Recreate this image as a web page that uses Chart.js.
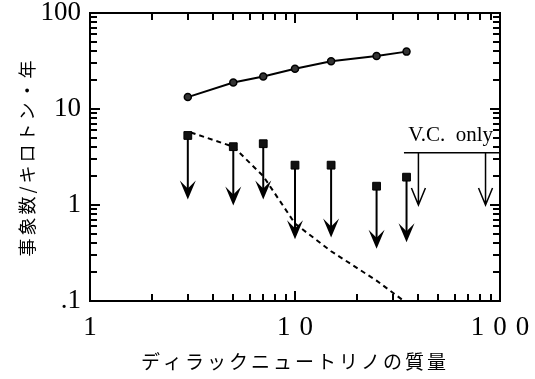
<!DOCTYPE html>
<html lang="ja">
<head>
<meta charset="UTF-8">
<title>ディラックニュートリノの質量</title>
<script src="https://cdn.jsdelivr.net/npm/chart.js/dist/chart.umd.min.js"></script>
<style>
  body { margin: 0; background: #fff; }
  #wrap { width: 535px; height: 379px; }
</style>
</head>
<body>
<div id="wrap"><canvas id="c" width="535" height="379"></canvas></div>
<script>
// values
const masses = [3, 5, 7, 10, 15, 25, 35];
const expected = [13.3, 18.9, 21.8, 26.2, 31.5, 35.7, 39.6];
const upperLimit = [5.3, 4.05, 4.35, 2.6, 2.6, 1.57, 1.95];
const arrowTip = [1.14, 0.99, 1.14, 0.44, 0.46, 0.35, 0.41];

const dashMass = [3.1, 5, 7, 10, 15, 25, 34];
const dashVal = [5.7, 4.05, 2.0, 0.64, 0.33, 0.163, 0.1];

const vcLineMass = [34, 100];
const vcLimit = [3.5, 3.5];
const vcArrowMass = [40, 85];
const vcArrowTip = [1.0, 1.0];

// axes
const xMajor = [1, 10, 100];
const xLabels = ['1', '10', '100'];
const yMajor = [0.1, 1, 10, 100];
const yLabels = ['.1', '1', '10', '100'];

function decadeTicks(major) {
  const out = [];
  for (let i = 0; i < major.length - 1; i++) {
    for (let k = 1; k < 10; k++) out.push(parseFloat((major[i] * k).toPrecision(2)));
  }
  out.push(major[major.length - 1]);
  return out;
}
const xTickVals = decadeTicks(xMajor);
const yTickVals = decadeTicks(yMajor);

const pts = (xs, ys) => xs.map((v, i) => ({ x: v, y: ys[i] }));

// canvas letterSpacing on a scale's labels / title
function spaceOut(scale, labelGap, titleGap) {
  if (scale._spaced) return;
  scale._spaced = true;
  const drawLabels = scale.drawLabels;
  const drawTitle = scale.drawTitle;
  scale.drawLabels = function (area) {
    this.ctx.letterSpacing = labelGap;
    drawLabels.call(this, area);
    this.ctx.letterSpacing = '0px';
  };
  scale.drawTitle = function (area) {
    this.ctx.letterSpacing = titleGap;
    drawTitle.call(this, area);
    this.ctx.letterSpacing = '0px';
  };
}

// arrows, V.C. label, frame and inward ticks
const figureExtras = {
  id: 'figureExtras',
  beforeDatasetsDraw(chart) {
    const { ctx, chartArea, scales: { x, y } } = chart;
    ctx.save();
    ctx.strokeStyle = '#000';
    ctx.fillStyle = '#000';

    masses.forEach((m, i) => {
      const px = x.getPixelForValue(m);
      const y0 = y.getPixelForValue(upperLimit[i]);
      const y1 = y.getPixelForValue(arrowTip[i]);
      ctx.lineWidth = 2;
      ctx.beginPath();
      ctx.moveTo(px, y0);
      ctx.lineTo(px, y1 - 8);
      ctx.stroke();
      ctx.beginPath();
      ctx.moveTo(px, y1);
      ctx.lineTo(px - 8, y1 - 19);
      ctx.lineTo(px, y1 - 11);
      ctx.lineTo(px + 8, y1 - 19);
      ctx.closePath();
      ctx.fill();
    });

    ctx.lineWidth = 1.5;
    vcArrowMass.forEach((m, i) => {
      const px = x.getPixelForValue(m);
      const y0 = y.getPixelForValue(vcLimit[0]);
      const y1 = y.getPixelForValue(vcArrowTip[i]);
      ctx.beginPath();
      ctx.moveTo(px, y0);
      ctx.lineTo(px, y1);
      ctx.moveTo(px - 7, y1 - 17);
      ctx.lineTo(px, y1);
      ctx.lineTo(px + 7, y1 - 17);
      ctx.stroke();
    });

    ctx.font = '21px "Liberation Serif"';
    ctx.textAlign = 'right';
    ctx.textBaseline = 'alphabetic';
    ctx.fillText('V.C.  only', chartArea.right - 7, y.getPixelForValue(vcLimit[0]) - 12);
    ctx.restore();
  },
  afterDraw(chart) {
    const { ctx, chartArea: a, scales: { x, y } } = chart;
    ctx.save();
    ctx.strokeStyle = '#000';
    ctx.lineWidth = 2;
    ctx.strokeRect(a.left, a.top, a.right - a.left, a.bottom - a.top);
    ctx.fillStyle = '#000';
    for (const v of xTickVals) {
      const px = Math.round(x.getPixelForValue(v));
      const len = xMajor.includes(v) ? 10 : 7;
      ctx.fillRect(px - 1, a.bottom - len, 2, len);
      ctx.fillRect(px - 1, a.top, 2, len);
    }
    for (const v of yTickVals) {
      const py = Math.round(y.getPixelForValue(v));
      const len = yMajor.includes(v) ? 10 : 7;
      ctx.fillRect(a.left, py - 1, len, 2);
      ctx.fillRect(a.right - len, py - 1, len, 2);
    }
    ctx.restore();
  }
};

const config = {
  type: 'scatter',
  data: {
    datasets: [
      {
        label: 'upper limit',
        data: pts(masses, upperLimit),
        showLine: false,
        pointStyle: 'rect',
        pointRadius: 5.5,
        pointBackgroundColor: '#111',
        pointBorderColor: '#000',
        pointBorderWidth: 1
      },
      {
        label: 'expected',
        data: pts(masses, expected),
        showLine: true,
        borderColor: '#000',
        borderWidth: 2,
        pointStyle: 'circle',
        pointRadius: 3.5,
        pointBackgroundColor: '#333',
        pointBorderColor: '#000',
        pointBorderWidth: 1.5
      },
      {
        label: 'dashed',
        data: pts(dashMass, dashVal),
        showLine: true,
        borderColor: '#000',
        borderWidth: 2,
        borderDash: [5, 4],
        pointRadius: 0
      },
      {
        label: 'V.C. only',
        data: pts(vcLineMass, vcLimit),
        showLine: true,
        borderColor: '#000',
        borderWidth: 1.5,
        pointRadius: 0
      }
    ]
  },
  options: {
    responsive: false,
    animation: false,
    devicePixelRatio: 1,
    layout: { padding: { left: 0, top: 13, right: 35, bottom: 0 } },
    plugins: {
      legend: { display: false },
      tooltip: { enabled: false }
    },
    scales: {
      x: {
        type: 'logarithmic',
        min: 1,
        max: 100,
        afterBuildTicks: s => { s.ticks = xTickVals.map(v => ({ value: v })); },
        afterFit: s => {
          s.height = 78;
          s.paddingLeft = 0;
          s.paddingRight = 0;
          spaceOut(s, '9px', '3px');
        },
        grid: { display: false, drawTicks: false },
        border: { display: false },
        ticks: {
          autoSkip: false,
          maxRotation: 0,
          padding: 11,
          labelOffset: 4.5,
          color: '#000',
          font: { family: '"Liberation Serif"', size: 27 },
          callback: v => xLabels[xMajor.indexOf(v)] ?? ''
        },
        title: {
          display: true,
          text: 'ディラックニュートリノの質量',
          color: '#000',
          font: { family: '"Noto Sans CJK JP"', size: 19 },
          padding: { top: 0, bottom: 6 }
        }
      },
      y: {
        type: 'logarithmic',
        min: 0.1,
        max: 100,
        afterBuildTicks: s => { s.ticks = yTickVals.map(v => ({ value: v })); },
        afterFit: s => {
          s.width = 90;
          s.paddingTop = 0;
          s.paddingBottom = 0;
          spaceOut(s, '0px', '3px');
        },
        grid: { display: false, drawTicks: false },
        border: { display: false },
        ticks: {
          autoSkip: false,
          padding: 9,
          color: '#000',
          font: { family: '"Liberation Serif"', size: 27 },
          callback: v => yLabels[yMajor.indexOf(v)] ?? ''
        },
        title: {
          display: true,
          text: '事象数/キロトン・年',
          color: '#000',
          font: { family: '"Noto Sans CJK JP"', size: 18 },
          padding: { top: 16, bottom: 0 }
        }
      }
    }
  },
  plugins: [figureExtras]
};

const chart = new Chart(document.getElementById('c'), config);
</script>
</body>
</html>
